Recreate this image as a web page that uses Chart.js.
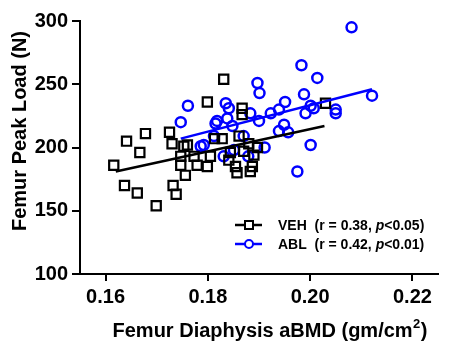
<!DOCTYPE html>
<html>
<head>
<meta charset="utf-8">
<script src="https://cdn.jsdelivr.net/npm/chart.js@4"></script>
<style>
html,body{margin:0;padding:0;background:#fff;}
#c{display:block;}
</style>
</head>
<body>
<canvas id="c" width="460" height="343"></canvas>
<script>
const xTicks = [0.16, 0.18, 0.20, 0.22];
const xTickLabels = ["0.16", "0.18", "0.20", "0.22"];
const yTicks = [100, 150, 200, 250, 300];
const yTickLabels = ["100", "150", "200", "250", "300"];

const vehX = [0.1616,0.1641,0.1667,0.1678,0.1637,0.1662,0.1699,0.1725,0.1730,0.1732,0.1738,0.1756,0.1747,0.1753,0.1799,0.1799,0.1831,0.1867,0.1867,0.1813,0.1828,0.1861,0.1760,0.1880,0.1747,0.1773,0.1805,0.1844,0.1870,0.1890,0.1779,0.1854,0.1887,0.1857,0.2030,0.1897,0.1841,0.1883];
const vehY = [186,205,196,211,170,164,154,212,203,170,163,178,186,201,185,236,254,231,226,207,207,209,202,203,193,193,193,196,197,194,186,185,185,180,235,200,190,181];

const ablX = [0.2081,0.1983,0.2014,0.1897,0.1901,0.1988,0.1951,0.1939,0.1923,0.2001,0.2007,0.1991,0.2050,0.2050,0.1900,0.1949,0.1939,0.1957,0.2001,0.1911,0.1975,0.2121,0.1761,0.1747,0.1815,0.1786,0.1835,0.1841,0.1883,0.1818,0.1838,0.1848,0.1812,0.1870,0.1831,0.1851,0.1879,0.1792];
const ablY = [295,265,255,251,243,242,236,230,227,233,231,227,230,227,221,218,213,212,202,200,181,241,233,220,219,201,235,231,227,221,223,217,209,209,193,198,193,202];

const vehFitX = [0.1620, 0.2028];
const vehFitY = [181, 217];
const ablFitX = [0.1747, 0.2121];
const ablFitY = [207, 246];

const seriesNames = ["VEH", "ABL"];
const statR = ["0.38", "0.42"];
const statP = ["<0.05", "<0.01"];
const xTitle = "Femur Diaphysis aBMD (gm/cm";
const xTitleSup = "2";
const yTitle = "Femur Peak Load (N)";

const FONT = "'Liberation Sans', Arial, Helvetica, sans-serif";
const BLUE = "#0000ff";

const pts = (xs, ys) => xs.map((x, i) => ({x: x, y: ys[i]}));

const overlay = {
  id: 'overlay',
  afterDraw(chart) {
    const ctx = chart.ctx;
    ctx.save();
    ctx.fillStyle = '#000';
    // y title
    ctx.save();
    ctx.translate(20, 131);
    ctx.rotate(-Math.PI / 2);
    ctx.font = "bold 20px " + FONT;
    ctx.textAlign = 'center';
    ctx.textBaseline = 'middle';
    ctx.fillText(yTitle, 0, 0);
    ctx.restore();
    // x title with superscript
    ctx.font = "bold 20px " + FONT;
    const w1 = ctx.measureText(xTitle).width;
    ctx.font = "bold 13px " + FONT;
    const w2 = ctx.measureText(xTitleSup).width;
    ctx.font = "bold 20px " + FONT;
    const w3 = ctx.measureText(")").width;
    const total = w1 + w2 + 1 + w3;
    let x0 = 270 - total / 2;
    ctx.textAlign = 'left';
    ctx.textBaseline = 'alphabetic';
    const base = 337;
    ctx.fillText(xTitle, x0, base);
    ctx.font = "bold 13px " + FONT;
    ctx.fillText(xTitleSup, x0 + w1 + 0.5, base - 9);
    ctx.font = "bold 20px " + FONT;
    ctx.fillText(")", x0 + w1 + w2 + 1, base);

    // legend
    const rows = [225, 244];
    const colors = ['#000', BLUE];
    rows.forEach((yy, i) => {
      ctx.strokeStyle = colors[i];
      ctx.lineWidth = 2.5;
      ctx.beginPath();
      ctx.moveTo(235, yy);
      ctx.lineTo(262, yy);
      ctx.stroke();
      ctx.lineWidth = 2;
      ctx.fillStyle = '#fff';
      if (i === 0) {
        ctx.fillRect(245, yy - 4, 8, 8);
        ctx.strokeRect(245, yy - 4, 8, 8);
      } else {
        ctx.beginPath();
        ctx.arc(249, yy, 4, 0, Math.PI * 2);
        ctx.fill();
        ctx.stroke();
      }
      ctx.fillStyle = '#000';
      ctx.textBaseline = 'middle';
      let tx = 278;
      ctx.font = "bold 14px " + FONT;
      const a = seriesNames[i] + "  (r = " + statR[i] + ", ";
      ctx.fillText(a, tx, yy + 1);
      tx += ctx.measureText(a).width;
      ctx.font = "italic bold 14px " + FONT;
      ctx.fillText("p", tx, yy + 1);
      tx += ctx.measureText("p").width;
      ctx.font = "bold 14px " + FONT;
      ctx.fillText(statP[i] + ")", tx, yy + 1);
    });
    ctx.restore();
  }
};

new Chart(document.getElementById('c'), {
  type: 'scatter',
  data: {
    datasets: [
      {
        type: 'line', label: 'VEH fit', data: pts(vehFitX, vehFitY),
        borderColor: '#000', borderWidth: 2.5, pointRadius: 0, fill: false, order: 0
      },
      {
        type: 'line', label: 'ABL fit', data: pts(ablFitX, ablFitY),
        borderColor: BLUE, borderWidth: 2.5, pointRadius: 0, fill: false, order: 1
      },
      {
        label: 'VEH', data: pts(vehX, vehY), pointStyle: 'rect', pointRadius: 6.5,
        borderColor: '#000', backgroundColor: 'rgba(0,0,0,0)', borderWidth: 2.2, order: 2
      },
      {
        label: 'ABL', data: pts(ablX, ablY), pointStyle: 'circle', pointRadius: 5,
        borderColor: BLUE, backgroundColor: 'rgba(0,0,0,0)', borderWidth: 2.5, order: 3
      }
    ]
  },
  options: {
    responsive: false,
    animation: false,
    devicePixelRatio: 1,
    layout: { padding: { top: 21, right: 22, left: 0, bottom: 0 } },
    plugins: { legend: { display: false }, tooltip: { enabled: false } },
    scales: {
      x: {
        type: 'linear', min: 0.155, max: 0.225,
        afterBuildTicks: s => { s.ticks = xTicks.map(v => ({ value: v })); },
        afterFit: s => { s.height = 69; },
        ticks: {
          callback: (v, i) => xTickLabels[i],
          font: { size: 20, weight: 'bold', family: FONT }, color: '#000',
          padding: 4, maxRotation: 0, autoSkip: false
        },
        grid: { display: true, drawOnChartArea: false, drawTicks: true, tickLength: 7, color: '#000', lineWidth: 2 },
        border: { display: true, color: '#000', width: 2 }
      },
      y: {
        type: 'linear', min: 100, max: 300,
        afterBuildTicks: s => { s.ticks = yTicks.map(v => ({ value: v })); },
        afterFit: s => { s.width = 80; },
        ticks: {
          callback: (v, i) => yTickLabels[i],
          font: { size: 20, weight: 'bold', family: FONT }, color: '#000',
          padding: 4, autoSkip: false
        },
        grid: { display: true, drawOnChartArea: false, drawTicks: true, tickLength: 8, color: '#000', lineWidth: 2 },
        border: { display: true, color: '#000', width: 2 }
      }
    }
  },
  plugins: [overlay]
});
</script>
</body>
</html>
